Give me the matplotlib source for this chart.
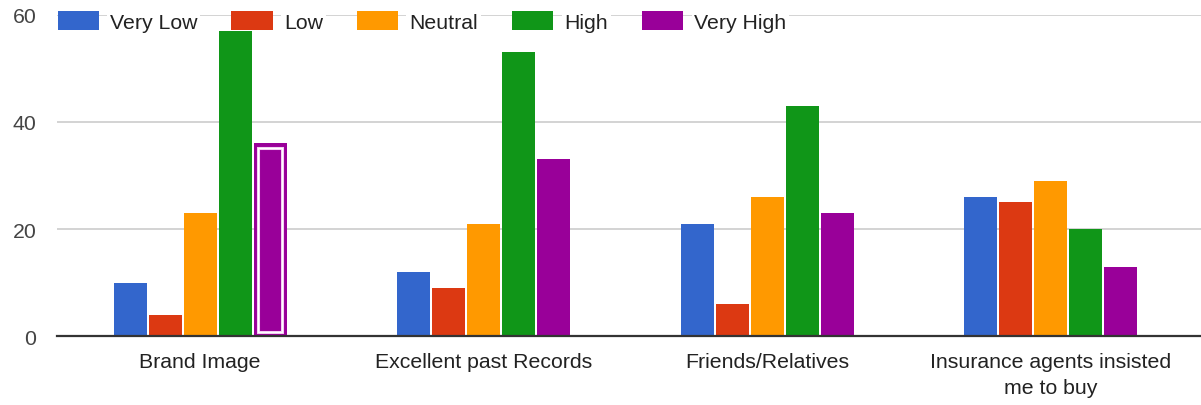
import matplotlib
matplotlib.use("Agg")
import matplotlib.pyplot as plt
from matplotlib.patches import Patch, Rectangle
import numpy as np

plt.rcParams["font.family"] = ["Liberation Sans", "DejaVu Sans"]

categories = ["Brand Image", "Excellent past Records", "Friends/Relatives",
              "Insurance agents insisted\nme to buy"]
series = ["Very Low", "Low", "Neutral", "High", "Very High"]
very_low = [10, 12, 21, 26]
low = [4, 9, 6, 25]
neutral = [23, 21, 26, 29]
high = [57, 53, 43, 20]
very_high = [36, 33, 23, 13]
values = [very_low, low, neutral, high, very_high]
colors = ["#3366cc", "#dc3912", "#ff9900", "#109618", "#990099"]
y_ticks = [0, 20, 40, 60]
selected = (0, 4)  # (category index, series index) of the highlighted bar

W, H = 1201, 406
FS = 15.3
fig = plt.figure(figsize=(W / 100, H / 100), dpi=100)
left, right, top, bottom = 57.3, 1201, 15.5, 337.3
ax = fig.add_axes([left / W, 1 - bottom / H, (right - left) / W, (bottom - top) / H])

group_px = 283.67
pitch = 35.0 / group_px
bar_w = 33.0 / group_px
x = np.arange(len(categories))
offsets = (np.arange(len(series)) - (len(series) - 1) / 2) * pitch

for si, (vals, col) in enumerate(zip(values, colors)):
    ax.bar(x + offsets[si], vals, width=bar_w, color=col, edgecolor="none",
           zorder=3)

# highlight ring inside the selected bar
ci, si = selected
v = values[si][ci]
inset_x = 4.6 / group_px
inset_y = 4.4 * 20 / 107.3
x0 = x[ci] + offsets[si] - bar_w / 2 + inset_x
ax.add_patch(Rectangle((x0, inset_y), bar_w - 2 * inset_x, v - 2 * inset_y,
                       fill=False, edgecolor="#f2c4f2", linewidth=2.2, zorder=4))
ax.add_patch(Rectangle((x0, inset_y), bar_w - 2 * inset_x, v - 2 * inset_y,
                       fill=False, edgecolor="white", linewidth=1.0, zorder=5))

ax.set_ylim(0, 60)
ax.set_xlim(-0.5 - (58.2 - left) / group_px, 3.5 + (right - 1192.8) / group_px)
ax.set_yticks(y_ticks)
ax.set_yticklabels([str(t) for t in y_ticks], fontsize=FS, color="#444444")
ax.set_xticks(x)
ax.set_xticklabels(categories, fontsize=FS, color="#222222", linespacing=1.5)
ax.tick_params(axis="y", length=0, pad=15)
ax.tick_params(axis="x", length=0, pad=11)
for s in ["top", "right", "left"]:
    ax.spines[s].set_visible(False)
ax.spines["bottom"].set_color("#333333")
ax.spines["bottom"].set_linewidth(1.6)
ax.spines["bottom"].set_zorder(6)
ax.yaxis.grid(True, color="#cccccc", linewidth=1.2, zorder=0)
ax.set_axisbelow(True)

handles = [Patch(facecolor=c, edgecolor="none") for c in colors]
leg = fig.legend(handles, series, loc="center left",
                 bbox_to_anchor=(57.5 / W, 1 - 22.5 / H), ncol=5, frameon=False,
                 fontsize=FS, borderpad=0, borderaxespad=0,
                 handlelength=1.94, handleheight=0.95, handletextpad=0.52,
                 columnspacing=1.61)
for t in leg.get_texts():
    t.set_color("#222222")
    t.set_bbox(dict(facecolor="white", edgecolor="none", pad=2))

fig.savefig("out.png", dpi=100)
